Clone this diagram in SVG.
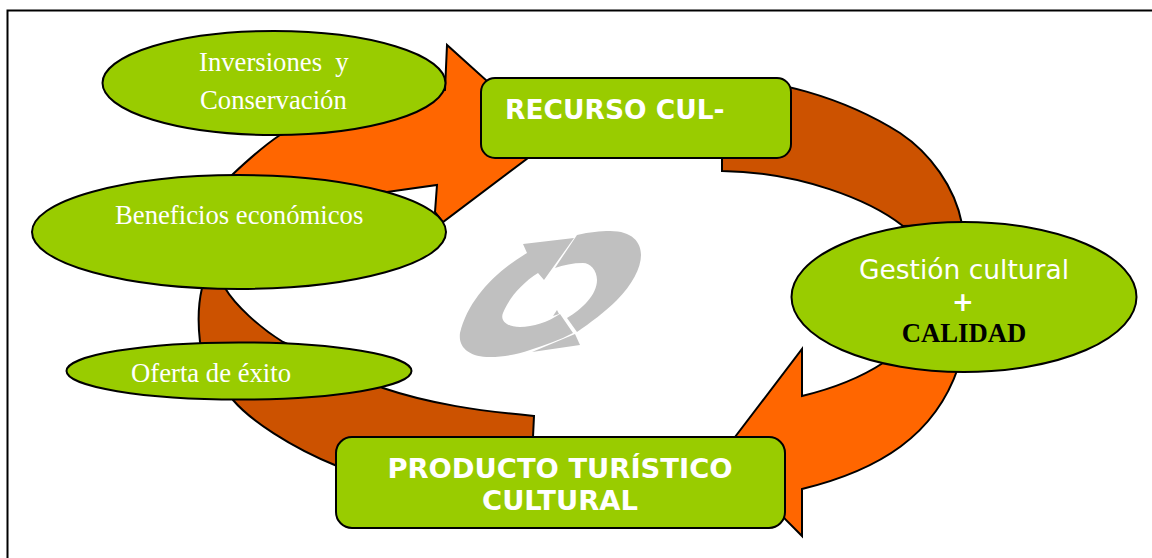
<svg xmlns="http://www.w3.org/2000/svg" width="1152" height="558" viewBox="0 0 1152 558">
<style>
.s{stroke:#000;stroke-width:2;stroke-linejoin:miter}
.g{fill:#99cc00}
.o{fill:#ff6600}
.d{fill:#cc5200}
.ser{font-family:"Liberation Serif",serif;font-size:26.700px;fill:#fff}
.san{font-family:"DejaVu Sans",sans-serif;fill:#fff}
.b{font-weight:bold}
</style>
<rect width="1152" height="558" fill="#fff"/>
<path d="M7.500 558V10.500H1152" fill="none" stroke="#000" stroke-width="2"/>
<g id="connectors">
<path class="s d" d="M722 78C770 79 840 95 900 133C930 153 955 187 962 224L903 226C870 200 800 172 722 171Z"/>
<path class="s o" d="M232 175C250 158 265 145 280 135L445 90L447 45L528 118L528 158L443 222L435 212L437 185L387 192Z"/>
<path class="s o" d="M883 363C860 378 835 388 802 396L802 349L735 437L785 519L802 536L802 489C880 470 935 435 958 368Z"/>
<path class="s d" d="M202 288C198 305 198 325 200 342L233 400C250 420 290 447 337 466L533 437L534 416C480 411 430 404 383 388L283 342C260 328 235 305 225 288Z"/>
<g id="cycle-icon" fill="#c0c0c0">
<path d="M574 238L523 244L527 253C495 272 468 300 460 333C458 348 470 357 490 357C505 357 518 354 530 350C545 345 560 340 573 333L560 314C548 322 533 327 520 327C506 327 500 320 503 313C509 298 522 283 538 273L544 280Z"/>
<path d="M577 235C590 232 600 231 610 231C632 231 641 242 641 255C641 268 632 285 617 300C605 312 590 323 577 332L567 318C582 309 597 295 597 280C597 270 590 263 583 263C573 263 563 265 555 268Z"/>
<path d="M575 334L580 345L532 352Z"/>
<path d="M557 310L553 316L559 314Z"/>
</g>
</g>
<g id="recurso"><rect class="s g" x="481" y="78" width="310" height="80" rx="14"/><text class="san b" x="505" y="119" font-size="26.500">RECURSO CUL-</text></g>
<g id="inversiones"><ellipse class="s g" cx="274" cy="83" rx="171.500" ry="52"/><text class="ser" x="199" y="71" xml:space="preserve">Inversiones  y</text><text class="ser" x="200" y="109">Conservación</text></g>
<g id="beneficios"><ellipse class="s g" cx="239" cy="232" rx="207" ry="57"/><text class="ser" x="115" y="224">Beneficios económicos</text></g>
<g id="oferta"><ellipse class="s g" cx="239" cy="371" rx="172.500" ry="28.500"/><text class="ser" x="131" y="382">Oferta de éxito</text></g>
<g id="gestion"><ellipse class="s g" cx="964" cy="297" rx="172.500" ry="75"/><text class="san" x="964" y="279" font-size="26.500" text-anchor="middle">Gestión cultural</text><text class="san b" x="963" y="311" font-size="26" text-anchor="middle">+</text><text x="964" y="342" font-family="'Liberation Serif',serif" font-size="26.700" font-weight="bold" fill="#000" text-anchor="middle">CALIDAD</text></g>
<g id="producto"><rect class="s g" x="336" y="437" width="449" height="91" rx="16"/><text class="san b" x="560" y="478" font-size="27.400" text-anchor="middle">PRODUCTO TURÍSTICO</text><text class="san b" x="560" y="510" font-size="27.400" text-anchor="middle">CULTURAL</text></g>
</svg>
